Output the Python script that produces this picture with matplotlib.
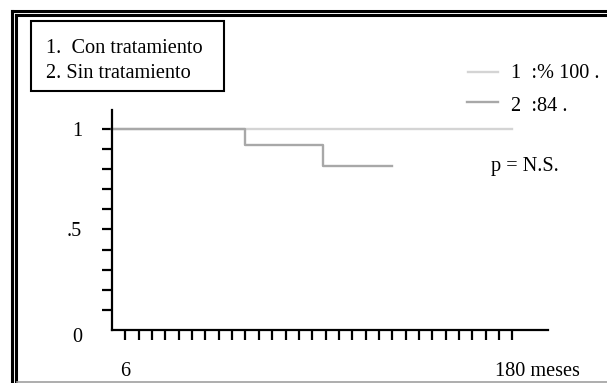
import matplotlib
matplotlib.use("Agg")
import matplotlib.pyplot as plt
from matplotlib.lines import Line2D
from matplotlib.patches import Rectangle
import matplotlib.transforms as mtransforms

W, H = 607, 383

# survival curves (months, proportion)
t_con = [0, 180]
s_con = [1.0, 1.0]
t_sin = [0, 60, 95, 126]
s_sin = [1.0, 0.92, 0.815, 0.815]

x_ticks = list(range(6, 181, 6))
y_ticks = [0, .1, .2, .3, .4, .5, .6, .7, .8, .9, 1.0]
y_labels = ["", "", "", "", "", ".5", "", "", "", "", "1"]

legend_groups = ["1.  Con tratamiento", "2. Sin tratamiento"]
legend_values = ["1  :% 100 .", "2  :84 ."]
c_con = "#d4d4d4"
c_sin = "#a8a8a8"

plt.rcParams["font.family"] = ["Liberation Serif", "DejaVu Serif"]
fs = 14.6


def fx(x):
    return x / W


def fy(y):
    return 1 - y / H


fig = plt.figure(figsize=(W / 100, H / 100), dpi=100)

# double frame
for x in (12, 16):
    fig.add_artist(Line2D([fx(x), fx(x)], [fy(x - 1), fy(H + 2)], color="black", lw=2.2))
for y in (11, 15):
    fig.add_artist(Line2D([fx(y + 1), fx(W + 2)], [fy(y), fy(y)], color="black", lw=2.2))
fig.add_artist(Line2D([fx(17), fx(W)], [fy(382), fy(382)], color="#a0a0a0", lw=1.2))

# group legend box
fig.add_artist(Rectangle((fx(31), fy(91)), fx(224) - fx(31), fy(21) - fy(91),
                         fill=False, edgecolor="black", lw=1.5))
fig.text(fx(46), fy(53), legend_groups[0], fontsize=fs, va="baseline")
fig.text(fx(46), fy(78), legend_groups[1], fontsize=fs, va="baseline")

ax = fig.add_axes([fx(112), fy(330), fx(548) - fx(112), fy(110) - fy(330)])
ax.plot(t_con, s_con, color=c_con, lw=1.7, drawstyle="steps-post", clip_on=False)
ax.plot(t_sin, s_sin, color=c_sin, lw=1.7, drawstyle="steps-post", clip_on=False)

ax.set_xlim(0, 196)
ax.set_ylim(0, 1.0945)
for s in ("top", "right"):
    ax.spines[s].set_visible(False)
for s in ("left", "bottom"):
    ax.spines[s].set_linewidth(1.6)

ax.set_yticks(y_ticks)
ax.set_yticklabels(y_labels)
ax.yaxis.get_major_ticks()[0].tick1line.set_visible(False)
ax.tick_params(axis="y", direction="out", length=7.2, width=1.6, pad=14.4, labelsize=fs)
ax.set_xticks(x_ticks)
ax.set_xticklabels([""] * len(x_ticks))
ax.tick_params(axis="x", direction="out", length=7.2, width=1.6)

fig.text(fx(82), fy(342), "0", fontsize=fs, ha="right", va="baseline")
ax.text(6, -0.23, "6", fontsize=fs, ha="center", va="baseline")
off = mtransforms.offset_copy(ax.transData, fig=fig, x=-17, y=0, units="dots")
ax.text(180, -0.23, "180 meses", fontsize=fs, ha="left", va="baseline", transform=off)

# right legend
fig.add_artist(Line2D([fx(468), fx(498)], [fy(72), fy(72)], color=c_con, lw=1.7))
fig.add_artist(Line2D([fx(467), fx(498)], [fy(102), fy(102)], color=c_sin, lw=1.7))
fig.text(fx(511), fy(78), legend_values[0], fontsize=fs, va="baseline")
fig.text(fx(511), fy(111), legend_values[1], fontsize=fs, va="baseline")
fig.text(fx(491), fy(171), "p = N.S.", fontsize=fs, va="baseline")

fig.savefig("out.png", dpi=100)
